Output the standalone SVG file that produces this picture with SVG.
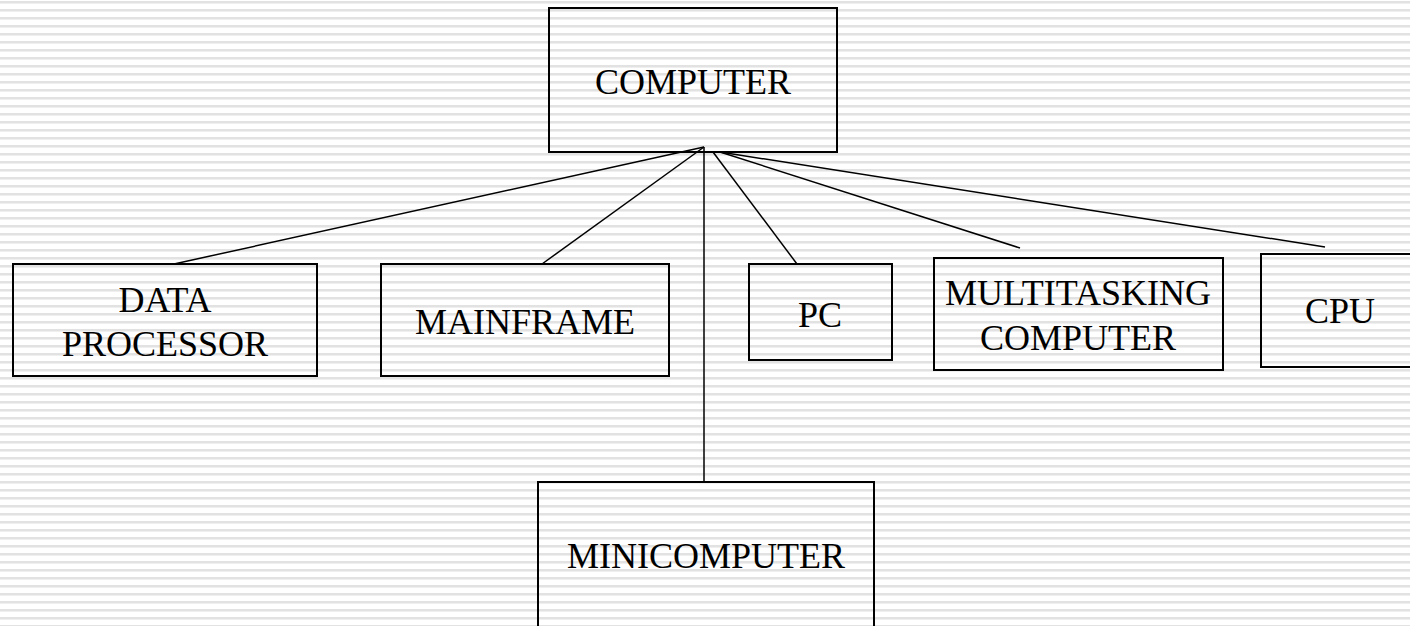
<svg xmlns="http://www.w3.org/2000/svg" width="1410" height="626" viewBox="0 0 1410 626">
<defs>
<pattern id="stripes" x="0" y="0" width="16" height="8" patternUnits="userSpaceOnUse">
<rect width="16" height="8" fill="#ffffff"/>
<rect y="1" width="16" height="2" fill="#e2e2e2"/>
<rect y="3" width="16" height="1" fill="#efefef"/>
</pattern>
<style>
.box{fill:none;stroke:#000;stroke-width:2}
.lbl{font-family:"Liberation Serif","Times New Roman",serif;font-size:36px;fill:#000;text-anchor:middle}
.con line{stroke:#000;stroke-width:1.5}
</style>
</defs>
<rect width="1410" height="626" fill="url(#stripes)"/>
<g id="connectors" class="con">
<line x1="704" y1="147" x2="174" y2="264"/>
<line x1="704" y1="147" x2="542" y2="264"/>
<line x1="704" y1="147" x2="704" y2="482"/>
<line x1="713" y1="152" x2="797" y2="264"/>
<line x1="720" y1="152" x2="1020" y2="248"/>
<line x1="720" y1="152" x2="1325" y2="247"/>
</g>
<g id="computer">
<rect class="box" x="549" y="8" width="288" height="144"/>
<text class="lbl" x="693" y="94">COMPUTER</text>
</g>
<g id="data-processor">
<rect class="box" x="13" y="264" width="304" height="112"/>
<text class="lbl" x="165" y="312">DATA</text>
<text class="lbl" x="165" y="356">PROCESSOR</text>
</g>
<g id="mainframe">
<rect class="box" x="381" y="264" width="288" height="112"/>
<text class="lbl" x="525" y="334">MAINFRAME</text>
</g>
<g id="pc">
<rect class="box" x="749" y="264" width="143" height="96"/>
<text class="lbl" x="820" y="327">PC</text>
</g>
<g id="multitasking">
<rect class="box" x="934" y="258" width="289" height="112"/>
<text class="lbl" x="1078" y="305">MULTITASKING</text>
<text class="lbl" x="1078" y="350">COMPUTER</text>
</g>
<g id="cpu">
<rect class="box" x="1261" y="254" width="160" height="113"/>
<text class="lbl" x="1340" y="323">CPU</text>
</g>
<g id="minicomputer">
<rect class="box" x="538" y="482" width="336" height="160"/>
<text class="lbl" x="706" y="568">MINICOMPUTER</text>
</g>
</svg>
